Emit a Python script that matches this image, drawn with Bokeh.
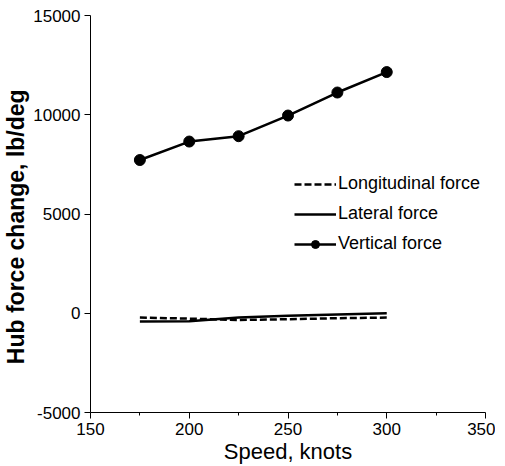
from bokeh.plotting import figure
from bokeh.models import Range1d, FixedTicker, Legend, LegendItem, CustomJSTickFormatter
from bokeh.embed import file_html
from bokeh.resources import INLINE

speed = [175, 200, 225, 250, 275, 300]
longitudinal = [-220, -270, -340, -300, -250, -220]
lateral = [-420, -400, -220, -130, -60, 0]
vertical = [7720, 8650, 8920, 9960, 11120, 12150]

x_ticks = [150, 200, 250, 300, 350]
x_minor = [175, 225, 275, 325]
y_ticks = [-5000, 0, 5000, 10000, 15000]

FONT = "Liberation Sans"

p = figure(frame_width=395, frame_height=397, output_backend="svg", toolbar_location=None,
           x_range=Range1d(150, 350), y_range=Range1d(-5000, 15000),
           min_border_left=84, min_border_right=10, min_border_top=15, min_border_bottom=45)
p.outline_line_color = None
p.xgrid.visible = False
p.ygrid.visible = False

p.xaxis.ticker = FixedTicker(ticks=x_ticks, minor_ticks=x_minor)
p.yaxis.ticker = FixedTicker(ticks=y_ticks, minor_ticks=[])
fmt = CustomJSTickFormatter(code="return String(tick);")
for ax in (p.xaxis, p.yaxis):
    ax.formatter = fmt
    ax.axis_line_color = "black"
    ax.major_tick_line_color = "black"
    ax.minor_tick_line_color = "black"
    ax.major_tick_out = 6
    ax.major_tick_in = 0
    ax.minor_tick_out = 3
    ax.minor_tick_in = 0
    ax.major_label_text_font = FONT
    ax.major_label_text_font_size = "17px"
    ax.major_label_text_color = "black"
    ax.axis_label_text_font = FONT
    ax.axis_label_text_color = "black"
p.xaxis.major_label_standoff = 4
p.yaxis.major_label_standoff = 4
p.xaxis.axis_label = "Speed, knots"
p.xaxis.axis_label_text_font_size = "22px"
p.xaxis.axis_label_text_font_style = "normal"
p.xaxis.axis_label_standoff = 1
p.yaxis.axis_label = "Hub force change, lb/deg\u00a0\u00a0\u00a0\u00a0"
p.yaxis.axis_label_text_font_size = "23px"
p.yaxis.axis_label_text_font_style = "bold"
p.yaxis.axis_label_standoff = 1

r_lon = p.line(speed, longitudinal, line_color="black", line_width=2.5, line_dash="7 3")
r_lat = p.line(speed, lateral, line_color="black", line_width=2.5)
r_ver = p.line(speed, vertical, line_color="black", line_width=2.5)
r_ver_pts = p.scatter(speed, vertical, size=11, fill_color="black", line_color="black")

legend = Legend(items=[
    LegendItem(label="Longitudinal force", renderers=[r_lon]),
    LegendItem(label="Lateral force", renderers=[r_lat]),
    LegendItem(label="Vertical force", renderers=[r_ver, r_ver_pts]),
], location=(204, 158))
legend.border_line_alpha = 0
legend.background_fill_alpha = 0
legend.padding = 0
legend.margin = 0
legend.glyph_width = 42
legend.glyph_height = 20
legend.label_height = 20
legend.label_standoff = 2
legend.spacing = 9
legend.label_text_font = FONT
legend.label_text_font_size = "18px"
legend.label_text_color = "black"
p.add_layout(legend, "center")

open("out.html", "w").write(file_html(p, INLINE))
